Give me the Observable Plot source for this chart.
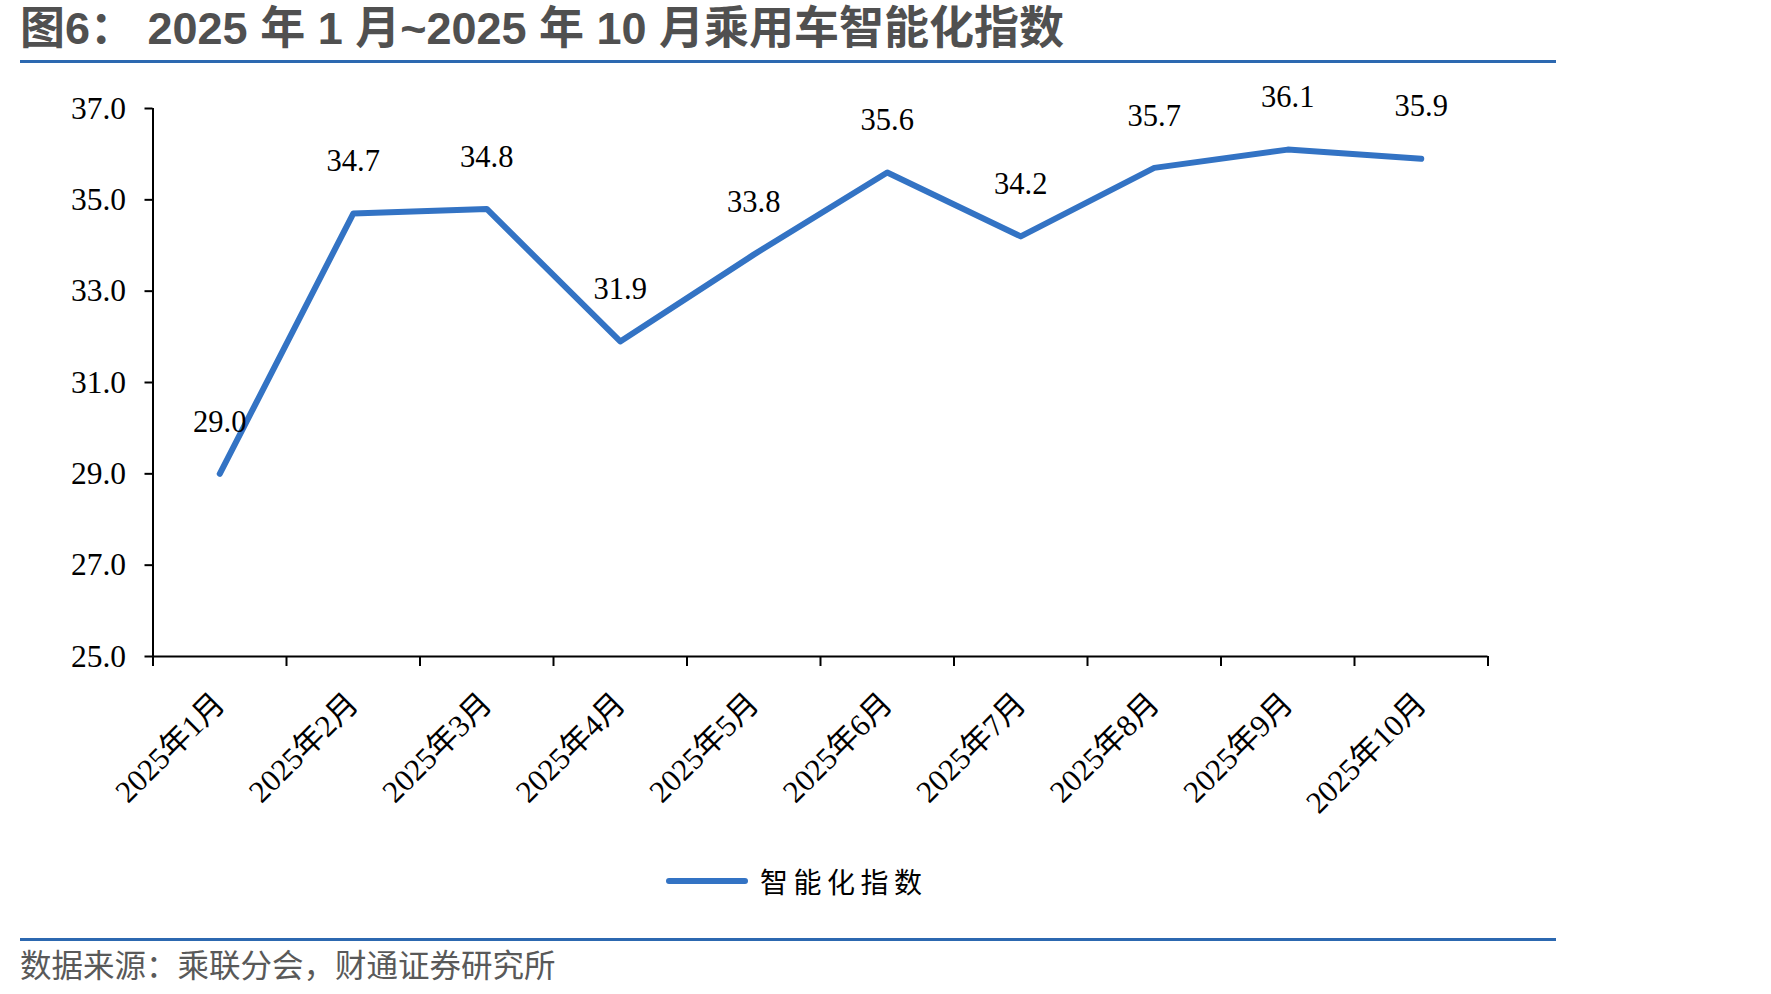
<!DOCTYPE html>
<html>
<head>
<meta charset="utf-8">
<script src="https://cdn.jsdelivr.net/npm/d3@7"></script>
<script src="https://cdn.jsdelivr.net/npm/@observablehq/plot@0.6"></script>
<style>
  html, body { margin: 0; padding: 0; background: #fff; }
  #page { position: relative; width: 1771px; height: 994px; overflow: hidden; background: #fff; }
  #title { position: absolute; left: 20px; top: 5px; font-family: "Liberation Sans", "Noto Sans CJK SC", sans-serif; font-size: 45px; line-height: 48px; font-weight: bold; color: #505050; white-space: pre; }
  .bline { position: absolute; left: 20px; width: 1536px; height: 3px; background: #2c68b0; }
  #chart { position: absolute; left: 0; top: 70px; }
  #legend { position: absolute; top: 862px; left: 666px; display: flex; align-items: center; }
  #legend .sw { width: 82px; height: 6px; border-radius: 3px; background: #3373c4; margin-right: 12px; }
  #legend .lb { font-family: "Noto Sans CJK SC", sans-serif; font-size: 28px; letter-spacing: 5.5px; color: #000; line-height: 38px; }
  #footer { position: absolute; left: 20px; top: 943px; font-family: "Noto Sans CJK SC", sans-serif; font-size: 31.5px; line-height: 40px; color: #595959; white-space: pre; }
</style>
</head>
<body>
<div id="page">
  <div id="title"></div>
  <div class="bline" style="top:60px"></div>
  <div id="chart"></div>
  <div id="legend"><div class="sw"></div><div class="lb"></div></div>
  <div class="bline" style="top:938px"></div>
  <div id="footer"></div>
</div>
<script>
const titleText = "图6： 2025 年 1 月~2025 年 10 月乘用车智能化指数";
const sourceText = "数据来源：乘联分会，财通证券研究所";
const seriesName = "智能化指数";
const months = ["2025年1月", "2025年2月", "2025年3月", "2025年4月", "2025年5月", "2025年6月", "2025年7月", "2025年8月", "2025年9月", "2025年10月"];
const values = [29.0, 34.7, 34.8, 31.9, 33.8, 35.6, 34.2, 35.7, 36.1, 35.9];
const yTicks = [25, 27, 29, 31, 33, 35, 37];
const lineColor = "#3373c4";

document.getElementById("title").textContent = titleText;
document.getElementById("footer").textContent = sourceText;
document.querySelector("#legend .lb").textContent = seriesName;

const data = months.map((m, i) => ({i, m, v: values[i]}));
const n = months.length;
const boundaries = d3.range(-0.5, n, 1);

const chart = Plot.plot({
  width: 1771,
  height: 790,
  marginLeft: 152.5,
  marginRight: 283.5,
  marginTop: 38,
  marginBottom: 204,
  style: {fontFamily: "'Liberation Serif', 'Noto Sans CJK SC', serif", fontSize: "30px", color: "#000", background: "white", overflow: "visible"},
  x: {domain: [-0.5, n - 0.5]},
  y: {domain: [25, 37]},
  marks: [
    Plot.axisY({ticks: yTicks, tickFormat: d => d.toFixed(1), tickSize: 8, tickPadding: 19, label: null, fontSize: 31.5, strokeWidth: 2}),
    Plot.axisX({ticks: boundaries, tickFormat: () => "", tickSize: 10, label: null, strokeWidth: 2}),
    Plot.axisX({ticks: d3.range(n), tickFormat: i => months[i], tickSize: 0, tickPadding: 42, tickRotate: -45, label: null, fontSize: 31}),
    Plot.ruleY([25], {stroke: "#000", strokeWidth: 2}),
    Plot.ruleX([-0.5], {stroke: "#000", strokeWidth: 2}),
    Plot.line(data, {x: "i", y: "v", stroke: lineColor, strokeWidth: 6, strokeLinecap: "round", strokeLinejoin: "round"}),
    Plot.text(data, {x: "i", y: "v", text: d => d.v.toFixed(1), dy: -52, fontSize: 30.5, fill: "#000"})
  ]
});
document.getElementById("chart").appendChild(chart);
</script>
</body>
</html>
